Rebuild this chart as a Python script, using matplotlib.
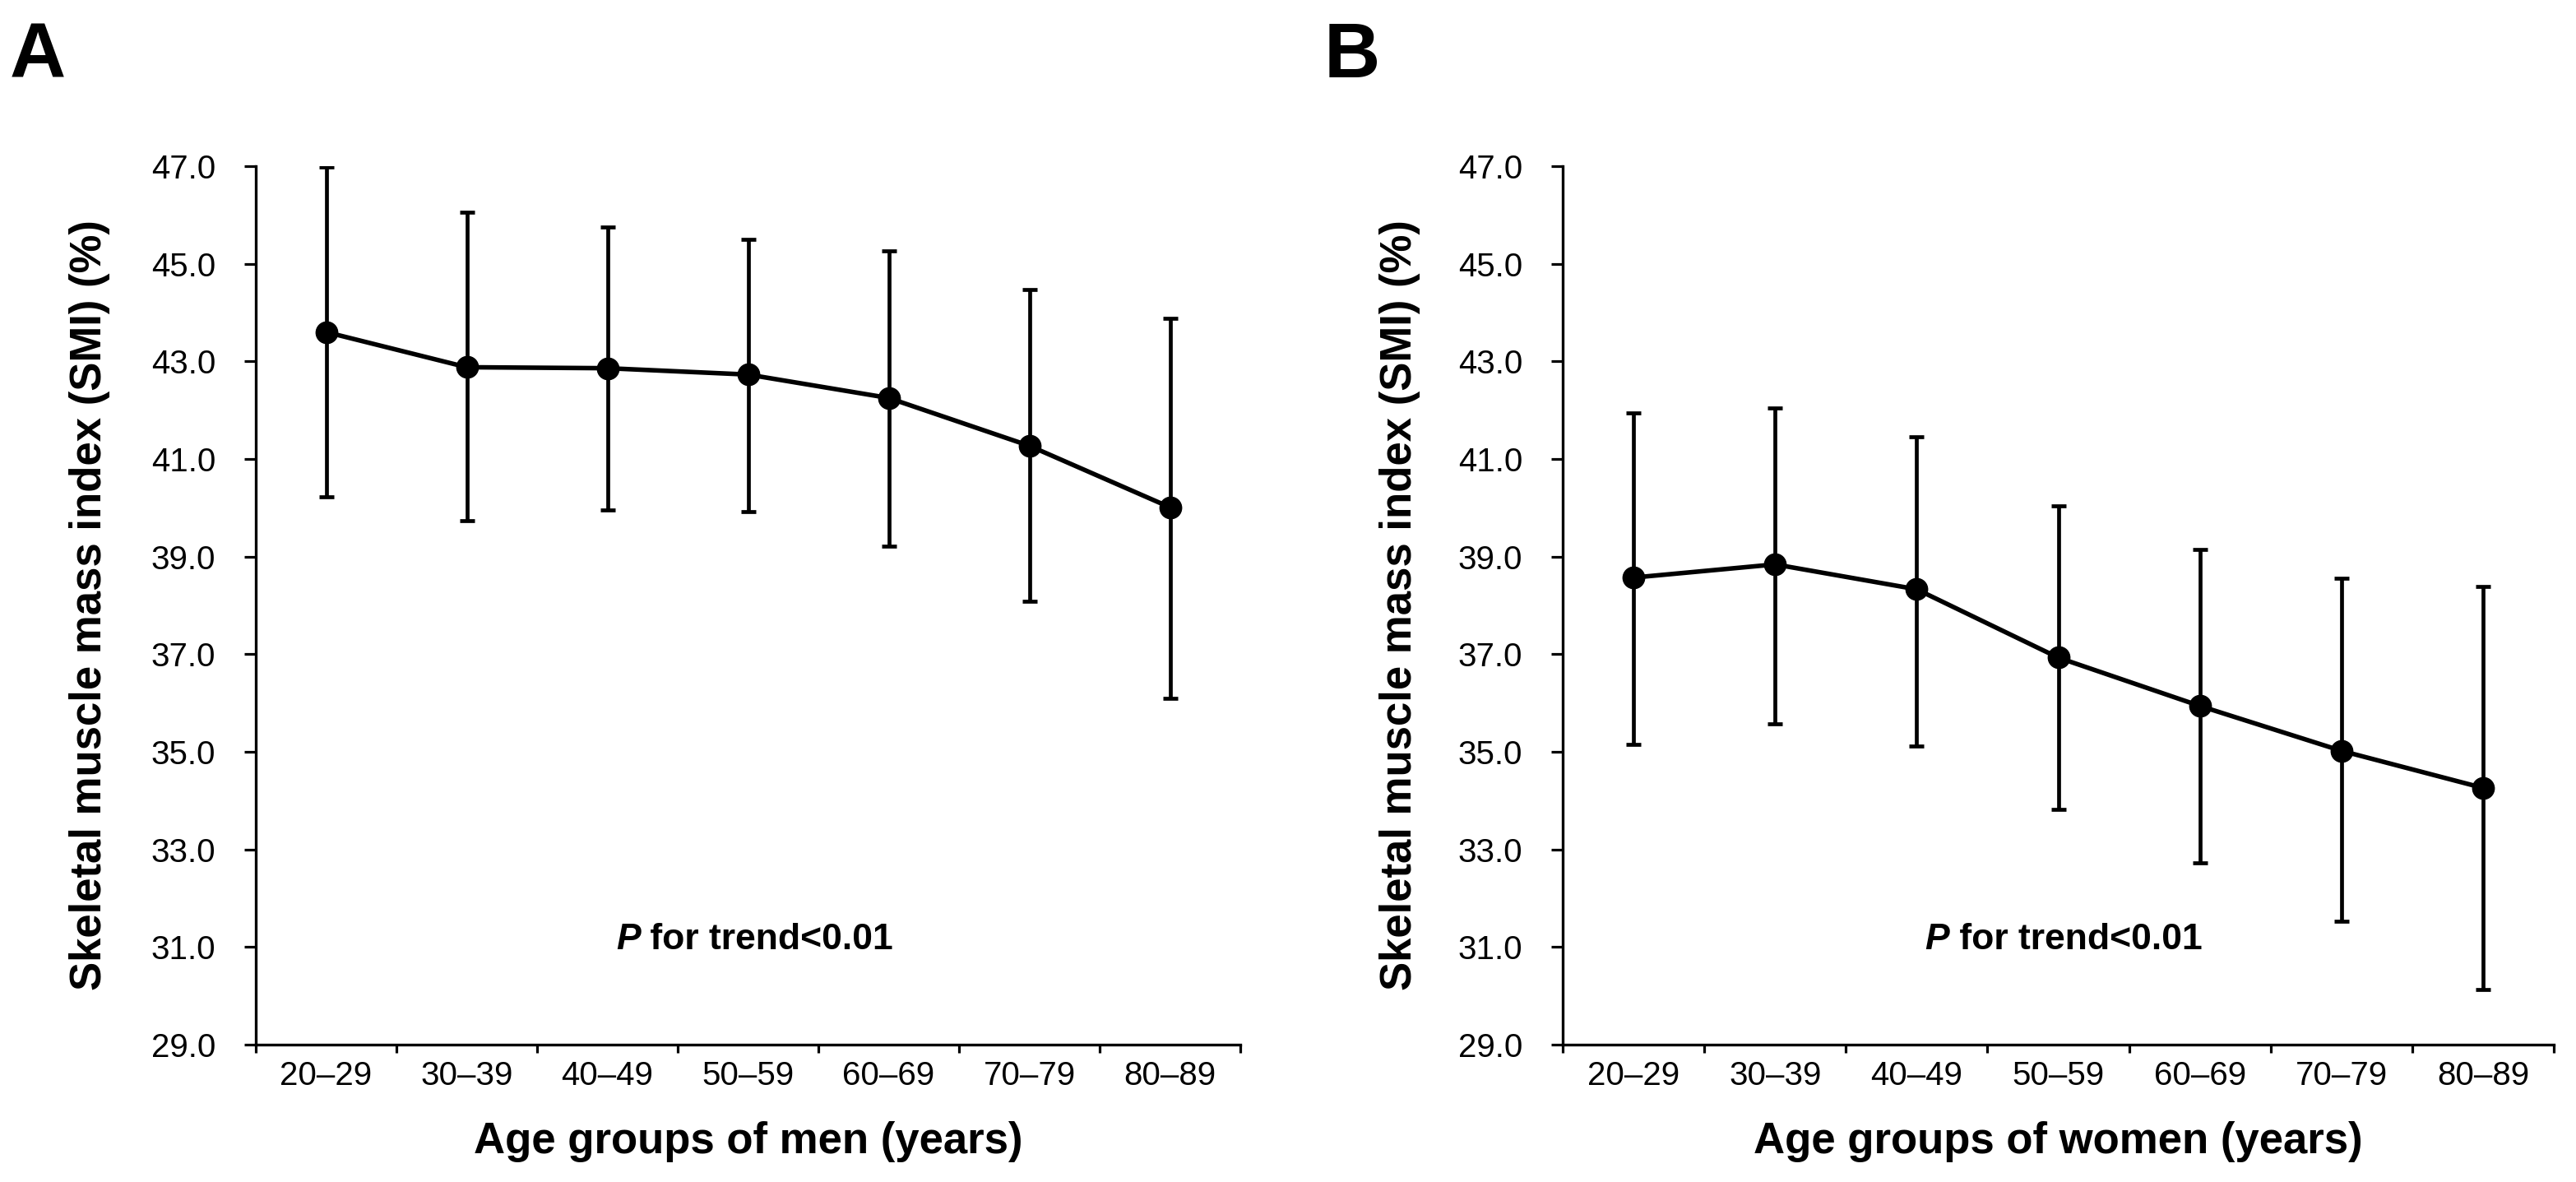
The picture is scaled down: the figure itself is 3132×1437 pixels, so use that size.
import matplotlib
matplotlib.use("Agg")
import matplotlib.pyplot as plt
import numpy as np
from matplotlib.ticker import FixedLocator, FormatStrFormatter

plt.rcParams['font.family'] = ['Liberation Sans', 'DejaVu Sans']

# ---- data ----
age_groups = ["20\u201329", "30\u201339", "40\u201349", "50\u201359", "60\u201369", "70\u201379", "80\u201389"]

men_mean = [43.60, 42.88, 42.86, 42.73, 42.25, 41.27, 40.01]
men_upper = [46.98, 46.05, 45.75, 45.50, 45.27, 44.47, 43.88]
men_lower = [40.22, 39.73, 39.95, 39.92, 39.21, 38.08, 36.09]

women_mean = [38.57, 38.84, 38.33, 36.93, 35.94, 35.02, 34.26]
women_upper = [41.95, 42.05, 41.46, 40.04, 39.14, 38.55, 38.39]
women_lower = [35.15, 35.57, 35.11, 33.82, 32.73, 31.52, 30.13]

y_ticks = [29.0, 31.0, 33.0, 35.0, 37.0, 39.0, 41.0, 43.0, 45.0, 47.0]

panels = [
    ("A", "Age groups of men (years)", men_mean, men_lower, men_upper),
    ("B", "Age groups of women (years)", women_mean, women_lower, women_upper),
]
trend_text = " for trend<0.01"
ylabel_text = "Skeletal muscle mass index (SMI) (%)"

W, H = 3132, 1437
fig = plt.figure(figsize=(W / 100, H / 100), dpi=100)

ax_px = [(311, 1508), (1900, 3105)]
y_top, y_bot = 202, 1270
ylabel_x = [-0.169, -0.164]
letter_x = [12, 1610]

for i, (letter, xlabel, mean, lower, upper) in enumerate(panels):
    x0, x1 = ax_px[i]
    ax = fig.add_axes([x0 / W, 1 - y_bot / H, (x1 - x0) / W, (y_bot - y_top) / H])
    x = np.arange(len(age_groups))
    mean = np.array(mean)
    yerr = [mean - np.array(lower), np.array(upper) - mean]
    ax.errorbar(x, mean, yerr=yerr, fmt='-o', color='black', ecolor='black',
                lw=4.0, elinewidth=3.4, capsize=6.5, capthick=3.4,
                markersize=19, zorder=3)
    ax.set_xlim(-0.5, len(age_groups) - 0.5)
    ax.set_ylim(29.0, 47.0)
    ax.set_yticks(y_ticks)
    ax.yaxis.set_major_formatter(FormatStrFormatter('%.1f'))
    ax.set_xticks(x)
    ax.set_xticklabels(age_groups)
    ax.xaxis.set_minor_locator(FixedLocator(np.arange(-0.5, len(age_groups), 1.0)))
    ax.tick_params(axis='x', which='major', length=0, pad=14, labelsize=29)
    ax.tick_params(axis='x', which='minor', length=7.5, width=2.3, direction='out')
    ax.tick_params(axis='y', which='major', length=10, width=2.3, pad=25, labelsize=29,
                   direction='out')
    for s in ['top', 'right']:
        ax.spines[s].set_visible(False)
    for s in ['left', 'bottom']:
        ax.spines[s].set_linewidth(2.4)

    ax.set_xlabel(xlabel, fontsize=38, fontweight='bold')
    ax.xaxis.set_label_coords(0.5, -0.087)
    ax.set_ylabel(ylabel_text, fontsize=38, fontweight='bold')
    ax.yaxis.set_label_coords(ylabel_x[i], 0.5)
    ax.yaxis.label.set_verticalalignment('center')

    t1 = ax.text(2.06, 31.15, "P", fontsize=32, fontweight='bold', style='italic',
                 ha='left', va='center')
    ax.annotate(trend_text, xy=(1, 0), xycoords=t1, fontsize=32, fontweight='bold',
                ha='left', va='bottom')

    fig.text(letter_x[i] / W, 1 - 25 / H, letter, fontsize=68, fontweight='bold',
             ha='left', va='top')

fig.savefig("out.png", dpi=100, facecolor='white')
